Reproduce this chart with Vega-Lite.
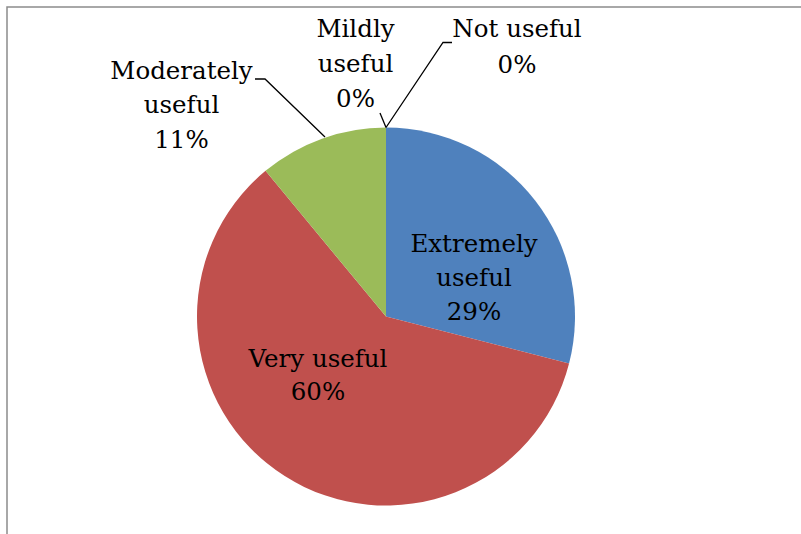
{
  "$schema": "https://vega.github.io/schema/vega-lite/v6.json",
  "width": 801,
  "height": 534,
  "autosize": "none",
  "padding": 0,
  "background": "white",
  "config": {"view": {"stroke": null}},
  "datasets": {
    "slices": [
      {"category": "Extremely useful", "value": 29, "idx": 1},
      {"category": "Very useful", "value": 60, "idx": 2},
      {"category": "Moderately useful", "value": 11, "idx": 3},
      {"category": "Mildly useful", "value": 0, "idx": 4},
      {"category": "Not useful", "value": 0, "idx": 5}
    ],
    "labels": [
      {"line": "Extremely", "x": 88, "y": 64.5},
      {"line": "useful", "x": 88, "y": 30.5},
      {"line": "29%", "x": 88, "y": -3.5},
      {"line": "Very useful", "x": -68, "y": -50.2},
      {"line": "60%", "x": -68, "y": -83.5},
      {"line": "Moderately", "x": -204.5, "y": 237.5},
      {"line": "useful", "x": -204.5, "y": 203.2},
      {"line": "11%", "x": -204.5, "y": 168.5},
      {"line": "Mildly", "x": -30.5, "y": 279.2},
      {"line": "useful", "x": -30.5, "y": 244.2},
      {"line": "0%", "x": -30.5, "y": 209.2},
      {"line": "Not useful", "x": 131, "y": 279.2},
      {"line": "0%", "x": 131, "y": 243.2}
    ],
    "leaders": [
      {"g": "Moderately", "i": 1, "x": -131, "y": 237.5},
      {"g": "Moderately", "i": 2, "x": -121, "y": 237.5},
      {"g": "Moderately", "i": 3, "x": -61, "y": 179.5},
      {"g": "Mildly", "i": 1, "x": -6, "y": 203.5},
      {"g": "Mildly", "i": 2, "x": 0, "y": 189},
      {"g": "Not", "i": 1, "x": 66, "y": 274},
      {"g": "Not", "i": 2, "x": 57, "y": 274},
      {"g": "Not", "i": 3, "x": 0, "y": 189}
    ],
    "frame": [
      {"i": 1, "x": -379, "y": -240},
      {"i": 2, "x": -379, "y": 309.5},
      {"i": 3, "x": 430, "y": 309.5}
    ]
  },
  "layer": [
    {
      "data": {"name": "frame"},
      "mark": {"type": "line", "stroke": "#8c8c8c", "strokeWidth": 1.5, "clip": false},
      "encoding": {
        "x": {"field": "x", "type": "quantitative", "scale": {"domain": [-386, 415], "nice": false, "zero": false}, "axis": null},
        "y": {"field": "y", "type": "quantitative", "scale": {"domain": [-217.5, 316.5], "nice": false, "zero": false}, "axis": null},
        "order": {"field": "i"}
      }
    },
    {
      "data": {"name": "slices"},
      "mark": {"type": "arc", "outerRadius": 189},
      "encoding": {
        "x": {"datum": 0, "type": "quantitative", "scale": {"domain": [-386, 415], "nice": false, "zero": false}, "axis": null},
        "y": {"datum": 0, "type": "quantitative", "scale": {"domain": [-217.5, 316.5], "nice": false, "zero": false}, "axis": null},
        "theta": {"field": "value", "type": "quantitative", "stack": true},
        "order": {"field": "idx"},
        "color": {
          "field": "category",
          "type": "nominal",
          "scale": {
            "domain": ["Extremely useful", "Very useful", "Moderately useful", "Mildly useful", "Not useful"],
            "range": ["#4F81BD", "#C0504D", "#9BBB59", "#8064A2", "#4BACC6"]
          },
          "legend": null
        }
      }
    },
    {
      "data": {"name": "leaders"},
      "mark": {"type": "line", "stroke": "black", "strokeWidth": 1.3, "clip": false},
      "encoding": {
        "x": {"field": "x", "type": "quantitative", "scale": {"domain": [-386, 415], "nice": false, "zero": false}, "axis": null},
        "y": {"field": "y", "type": "quantitative", "scale": {"domain": [-217.5, 316.5], "nice": false, "zero": false}, "axis": null},
        "detail": {"field": "g"},
        "order": {"field": "i"}
      }
    },
    {
      "data": {"name": "labels"},
      "mark": {"type": "text", "font": "DejaVu Serif", "fontSize": 24.5, "color": "black", "align": "center", "baseline": "alphabetic", "clip": false},
      "encoding": {
        "x": {"field": "x", "type": "quantitative", "scale": {"domain": [-386, 415], "nice": false, "zero": false}, "axis": null},
        "y": {"field": "y", "type": "quantitative", "scale": {"domain": [-217.5, 316.5], "nice": false, "zero": false}, "axis": null},
        "text": {"field": "line"}
      }
    }
  ]
}
